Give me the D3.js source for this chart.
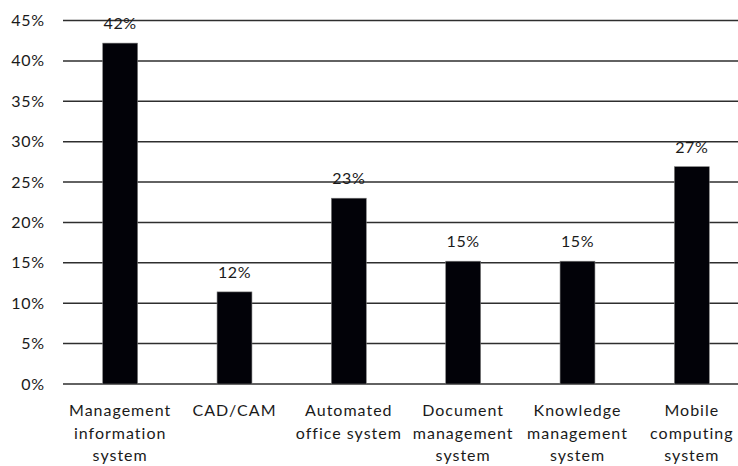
<!DOCTYPE html>
<html>
<head>
<script src="https://d3js.org/d3.v7.min.js"></script>
<style>
    body { margin: 0; background: #fff; }
    text { font-family: Lato, "Open Sans", sans-serif; fill: #1a1a1a; }
</style>
</head>
<body>
<svg id="chart" width="738" height="466"></svg>
<script>
    // data
    const categories = [
        ["Management", "information", "system"],
        ["CAD/CAM"],
        ["Automated", "office system"],
        ["Document", "management", "system"],
        ["Knowledge", "management", "system"],
        ["Mobile", "computing", "system"]
    ];
    const values = [42.2, 11.4, 23.0, 15.2, 15.2, 26.9];
    const valueLabels = ["42%", "12%", "23%", "15%", "15%", "27%"];
    const yTicks = [0, 5, 10, 15, 20, 25, 30, 35, 40, 45];

    const svg = d3.select("#chart");
    const plotLeft = 63, plotRight = 749, plotTop = 20.5, plotBottom = 384;

    const x = d3.scaleBand()
        .domain(d3.range(categories.length))
        .range([plotLeft, plotRight])
        .paddingInner(0.695)
        .paddingOuter(0.3475);
    const y = d3.scaleLinear([0, 45], [plotBottom, plotTop]);

    // gridlines
    svg.append("g")
        .selectAll("line")
        .data(yTicks)
        .join("line")
        .attr("x1", plotLeft)
        .attr("x2", 738)
        .attr("y1", d => y(d))
        .attr("y2", d => y(d))
        .attr("stroke", "#2e2e2e")
        .attr("stroke-width", 1.5);

    // y tick labels
    svg.append("g")
        .selectAll("text")
        .data(yTicks)
        .join("text")
        .attr("x", 45)
        .attr("y", d => y(d))
        .attr("dy", "0.35em")
        .attr("text-anchor", "end")
        .attr("font-size", 16)
        .attr("letter-spacing", "0.8px")
        .text(d => d + "%");

    // bars
    svg.append("g")
        .selectAll("rect")
        .data(values)
        .join("rect")
        .attr("x", (d, i) => x(i))
        .attr("y", d => y(d))
        .attr("width", x.bandwidth())
        .attr("height", d => y(0) - y(d))
        .attr("fill", "#020208")
        .attr("stroke", "#777")
        .attr("stroke-width", 0.6);

    // value labels
    svg.append("g")
        .selectAll("text")
        .data(values)
        .join("text")
        .attr("x", (d, i) => x(i) + x.bandwidth() / 2)
        .attr("y", d => y(d) - 14)
        .attr("text-anchor", "middle")
        .attr("font-size", 16)
        .attr("letter-spacing", "0.6px")
        .text((d, i) => valueLabels[i]);

    // category labels
    const cat = svg.append("g")
        .selectAll("text")
        .data(categories)
        .join("text")
        .attr("x", (d, i) => x(i) + x.bandwidth() / 2)
        .attr("y", 416)
        .attr("text-anchor", "middle")
        .attr("font-size", 16)
        .attr("letter-spacing", "1px");

    cat.selectAll("tspan")
        .data(d => d)
        .join("tspan")
        .attr("x", function () { return d3.select(this.parentNode).attr("x"); })
        .attr("dy", (d, i) => i === 0 ? 0 : 22.5)
        .text(d => d);
</script>
</body>
</html>
